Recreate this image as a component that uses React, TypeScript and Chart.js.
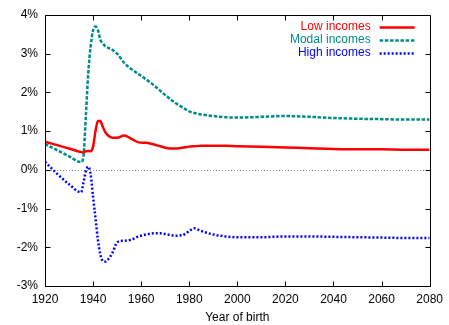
import { useEffect, useRef } from "react";
import { Chart, registerables } from "chart.js";

Chart.register(...registerables);

const years = [
  1920, 1925, 1930, 1935, 1936, 1937, 1938, 1939, 1940, 1941, 1942, 1943, 1944, 1945, 1946, 1948,
  1950, 1953, 1956, 1959, 1962, 1965, 1968, 1971, 1974, 1977, 1980, 1982, 1985, 1990, 1995, 2000,
  2010, 2020, 2030, 2040, 2050, 2060, 2070, 2080,
];

const lowIncomes = [
  0.73, 0.64, 0.55, 0.46, 0.45, 0.48, 0.49, 0.48, 0.6, 1.0, 1.26, 1.26, 1.12, 0.98, 0.9, 0.83,
  0.83, 0.89, 0.8, 0.71, 0.7, 0.66, 0.61, 0.56, 0.55, 0.57, 0.6, 0.61, 0.62, 0.62, 0.62, 0.61,
  0.6, 0.58, 0.56, 0.54, 0.53, 0.53, 0.52, 0.52,
];

const modalIncomes = [
  0.67, 0.51, 0.35, 0.2, 0.35, 1.4, 2.5, 3.2, 3.6, 3.7, 3.62, 3.36, 3.27, 3.2, 3.16, 3.1,
  3.0, 2.76, 2.6, 2.47, 2.34, 2.2, 2.04, 1.88, 1.74, 1.62, 1.51, 1.47, 1.43, 1.39, 1.36, 1.35,
  1.37, 1.39, 1.37, 1.34, 1.32, 1.31, 1.3, 1.3,
];

const highIncomes = [
  0.21, -0.1, -0.37, -0.58, -0.33, -0.03, 0.08, -0.12, -0.7, -1.25, -1.8, -2.18, -2.35, -2.37, -2.33, -2.15,
  -1.87, -1.83, -1.8, -1.72, -1.67, -1.64, -1.64, -1.67, -1.7, -1.69, -1.58, -1.51, -1.58, -1.67, -1.72, -1.74,
  -1.74, -1.72, -1.72, -1.73, -1.74, -1.75, -1.76, -1.76,
];

const seriesLabels = ["Low incomes", "Modal incomes", "High incomes"];
const xTicks = [1920, 1940, 1960, 1980, 2000, 2020, 2040, 2060, 2080];
const yTicks = [-3, -2, -1, 0, 1, 2, 3, 4];
const xTitle = "Year of birth";

const FONT = "'Liberation Sans', Arial, Helvetica, sans-serif";
const RED = "#ff0000";
const TEAL = "#008b8b";
const BLUE = "#0000ff";

const framePlugin = {
  id: "frame",
  beforeDatasetsDraw(chart: any) {
    const { ctx, chartArea, scales } = chart;
    const { left, right } = chartArea;
    const y0 = Math.round(scales.y.getPixelForValue(0)) + 0.5;
    ctx.save();
    ctx.strokeStyle = "#909090";
    ctx.lineWidth = 1;
    ctx.setLineDash([1, 2]);
    ctx.beginPath();
    ctx.moveTo(left, y0);
    ctx.lineTo(right, y0);
    ctx.stroke();
    ctx.restore();
  },
  afterDatasetsDraw(chart: any) {
    const { ctx, chartArea, scales } = chart;
    const { left, right, top, bottom } = chartArea;
    ctx.save();
    ctx.strokeStyle = "#000";
    ctx.lineWidth = 1;
    ctx.setLineDash([]);
    const L = Math.round(left) + 0.5;
    const R = Math.round(right) + 0.5;
    const T = Math.round(top) + 0.5;
    const B = Math.round(bottom) + 0.5;
    ctx.beginPath();
    ctx.rect(L, T, R - L, B - T);
    const tl = 5;
    for (const v of xTicks) {
      const px = Math.round(scales.x.getPixelForValue(v)) + 0.5;
      ctx.moveTo(px, B);
      ctx.lineTo(px, B - tl);
      ctx.moveTo(px, T);
      ctx.lineTo(px, T + tl);
    }
    for (const v of yTicks) {
      const py = Math.round(scales.y.getPixelForValue(v)) + 0.5;
      ctx.moveTo(L, py);
      ctx.lineTo(L + tl, py);
      ctx.moveTo(R, py);
      ctx.lineTo(R - tl, py);
    }
    ctx.stroke();

    // legend
    const datasets = chart.data.datasets;
    ctx.font = `12px ${FONT}`;
    ctx.textAlign = "right";
    ctx.textBaseline = "middle";
    datasets.forEach((ds: any, i: number) => {
      const y = top + 12 + i * 12.8;
      ctx.fillStyle = ds.borderColor;
      ctx.fillText(ds.label, right - 59, y);
      ctx.strokeStyle = ds.borderColor;
      ctx.lineWidth = ds.borderWidth;
      ctx.setLineDash(ds.borderDash || []);
      ctx.lineCap = "butt";
      ctx.beginPath();
      ctx.moveTo(right - 50, Math.round(y) + 0.5);
      ctx.lineTo(right - 15, Math.round(y) + 0.5);
      ctx.stroke();
    });
    ctx.restore();
  },
};

export default function App() {
  const ref = useRef<HTMLCanvasElement | null>(null);

  useEffect(() => {
    document.body.style.margin = "0";
    const canvas = ref.current;
    if (!canvas) return;
    const mk = (vals: number[]) => years.map((x, i) => ({ x, y: vals[i] }));
    const chart = new Chart(canvas, {
      type: "line",
      data: {
        datasets: [
          {
            label: seriesLabels[0],
            data: mk(lowIncomes),
            borderColor: RED,
            borderWidth: 2.5,
            pointRadius: 0,
            cubicInterpolationMode: "monotone",
          },
          {
            label: seriesLabels[1],
            data: mk(modalIncomes),
            borderColor: TEAL,
            borderWidth: 2.5,
            borderDash: [3.5, 1.7],
            pointRadius: 0,
            cubicInterpolationMode: "monotone",
          },
          {
            label: seriesLabels[2],
            data: mk(highIncomes),
            borderColor: BLUE,
            borderWidth: 2.5,
            borderDash: [2, 2],
            pointRadius: 0,
            cubicInterpolationMode: "monotone",
          },
        ],
      },
      options: {
        animation: false,
        responsive: false,
        devicePixelRatio: 1,
        layout: { padding: { top: 15, right: 16, left: 0, bottom: 0 } },
        plugins: { legend: { display: false }, tooltip: { enabled: false } },
        scales: {
          x: {
            type: "linear",
            min: 1920,
            max: 2080,
            afterBuildTicks: (s: any) => {
              s.ticks = xTicks.map((value) => ({ value }));
            },
            afterFit: (s: any) => {
              s.height = 39;
            },
            grid: { display: false, drawTicks: false },
            border: { display: false },
            ticks: {
              color: "#000",
              font: { family: FONT, size: 12 },
              padding: 6,
              maxRotation: 0,
              autoSkip: false,
              callback: (v: any) => String(v),
            },
            title: {
              display: true,
              text: xTitle,
              color: "#000",
              font: { family: FONT, size: 12 },
              padding: { top: 0, bottom: 0 },
            },
          },
          y: {
            type: "linear",
            min: -3,
            max: 4,
            afterBuildTicks: (s: any) => {
              s.ticks = yTicks.map((value) => ({ value }));
            },
            afterFit: (s: any) => {
              s.width = 45;
            },
            grid: { display: false, drawTicks: false },
            border: { display: false },
            ticks: {
              color: "#000",
              font: { family: FONT, size: 12 },
              padding: 7,
              autoSkip: false,
              callback: (v: any) => `${v}%`,
            },
          },
        },
      } as any,
      plugins: [framePlugin],
    });
    return () => chart.destroy();
  }, []);

  return (
    <div style={{ position: "relative", width: 449, height: 325 }}>
      <canvas ref={ref} width={449} height={325} />
    </div>
  );
}
